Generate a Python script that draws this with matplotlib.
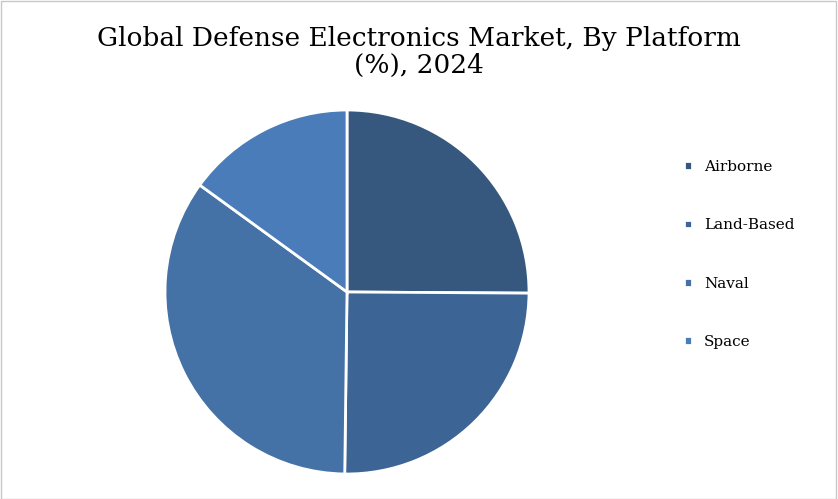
import matplotlib
matplotlib.use("Agg")
import matplotlib.pyplot as plt
from matplotlib.patches import Rectangle

labels = ["Airborne", "Land-Based", "Naval", "Space"]
values = [25.1, 25.1, 34.8, 15.0]
colors = ["#36587f", "#3c6494", "#4471a6", "#4a7cb9"]

fig = plt.figure(figsize=(8.38, 4.99), dpi=100)
ax = fig.add_axes([165/838, 25/499, 364/838, 364/499])
wedges, _ = ax.pie(values, colors=colors, startangle=90, counterclock=False, radius=1.0,
                   wedgeprops=dict(edgecolor="white", linewidth=2))
ax.set_xlim(-1, 1); ax.set_ylim(-1, 1)
ax.set_aspect("equal")
fig.text(0.5, 0.895, "Global Defense Electronics Market, By Platform\n(%), 2024",
         ha="center", va="center", fontsize=19, family="DejaVu Serif", linespacing=1.1)
ax.legend(wedges, labels, loc="center left", bbox_to_anchor=(0.8, 0.49),
          bbox_transform=fig.transFigure, frameon=False, handlelength=0.5,
          handleheight=0.5, labelspacing=2.9, prop=dict(family="DejaVu Serif", size=11))
fig.patches.append(Rectangle((0.001, 0.001), 0.997, 0.997, transform=fig.transFigure,
                             fill=False, edgecolor="#c8c8c8", linewidth=1))
fig.savefig("out.png", dpi=100)
